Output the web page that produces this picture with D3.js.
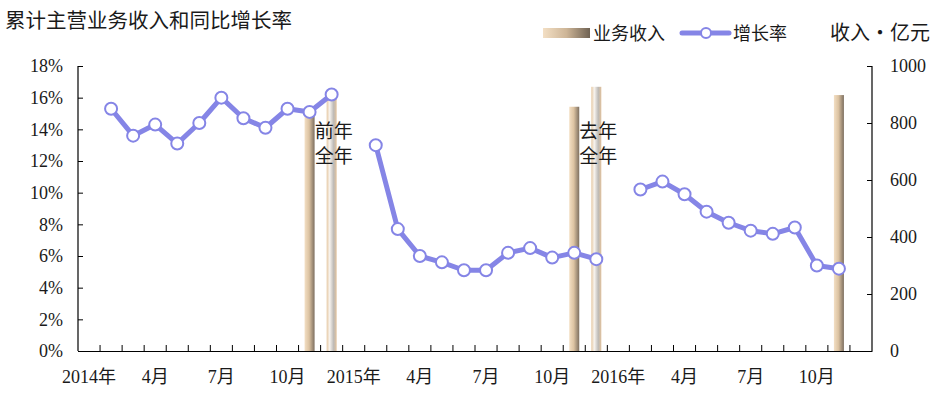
<!DOCTYPE html>
<html>
<head>
<meta charset="utf-8">
<script src="https://cdn.jsdelivr.net/npm/d3@7"></script>
<style>
  body { margin: 0; background: #fff; }
  text { font-family: "Liberation Serif", "Noto Sans CJK SC", serif; fill: #1a1a1a; }
</style>
</head>
<body>
<div id="canvas"></div>
<script>
// 数据
const years = ["2014", "2015", "2016"];
const monthNums = [1, 2, 3, 4, 5, 6, 7, 8, 9, 10, 11, 12];
const months = years.flatMap(y => monthNums.map(m => `${y}-${m}`));

// 增长率（%），每年 2月-12月
const growthMonths2014 = ["2014-2","2014-3","2014-4","2014-5","2014-6","2014-7","2014-8","2014-9","2014-10","2014-11","2014-12"];
const growth2014 = [15.3, 13.6, 14.3, 13.1, 14.4, 16.0, 14.7, 14.1, 15.3, 15.1, 16.2];
const growthMonths2015 = ["2015-2","2015-3","2015-4","2015-5","2015-6","2015-7","2015-8","2015-9","2015-10","2015-11","2015-12"];
const growth2015 = [13.0, 7.7, 6.0, 5.6, 5.1, 5.1, 6.2, 6.5, 5.9, 6.2, 5.8];
const growthMonths2016 = ["2016-2","2016-3","2016-4","2016-5","2016-6","2016-7","2016-8","2016-9","2016-10","2016-11"];
const growth2016 = [10.2, 10.7, 9.9, 8.8, 8.1, 7.6, 7.4, 7.8, 5.4, 5.2];

// 业务收入（亿元）
const barMonths = ["2014-11", "2014-12", "2015-11", "2015-12", "2016-11"];
const revenue = [830, 890, 857, 927, 898];
const barKind = ["cum", "full", "cum", "full", "cum"];

const leftTicks = [0, 2, 4, 6, 8, 10, 12, 14, 16, 18];
const rightTicks = [0, 200, 400, 600, 800, 1000];
const labelMonths = ["2014-1","2014-4","2014-7","2014-10","2015-1","2015-4","2015-7","2015-10","2016-1","2016-4","2016-7","2016-10"];
const monthLabel = d => d.endsWith("-1") ? d.split("-")[0] + "年" : d.split("-")[1] + "月";

const width = 943;
const height = 395;
const margin = { top: 66, left: 78, bottom: 44, right: 71 };

const svg = d3.select("#canvas").append("svg")
  .attr("width", width)
  .attr("height", height);

const x = d3.scaleBand().domain(months).range([margin.left, width - margin.right]).padding(0);
const yL = d3.scaleLinear().domain([0, 18]).range([height - margin.bottom, margin.top]);
const yR = d3.scaleLinear().domain([0, 1000]).range([height - margin.bottom, margin.top]);

// 渐变
const defs = svg.append("defs");
const g1 = defs.append("linearGradient").attr("id", "gradCum");
g1.append("stop").attr("offset", "0%").attr("stop-color", "#f3dfc4");
g1.append("stop").attr("offset", "45%").attr("stop-color", "#dcc3a2");
g1.append("stop").attr("offset", "100%").attr("stop-color", "#7d6f60");
const g2 = defs.append("linearGradient").attr("id", "gradFull");
g2.append("stop").attr("offset", "0%").attr("stop-color", "#e6c9a4");
g2.append("stop").attr("offset", "30%").attr("stop-color", "#f7f3ee");
g2.append("stop").attr("offset", "70%").attr("stop-color", "#bdbab6");
g2.append("stop").attr("offset", "100%").attr("stop-color", "#e2c29c");
const gl = defs.append("linearGradient").attr("id", "gradLegend");
gl.append("stop").attr("offset", "0%").attr("stop-color", "#f3dfc4");
gl.append("stop").attr("offset", "50%").attr("stop-color", "#cdb597");
gl.append("stop").attr("offset", "100%").attr("stop-color", "#6f6253");

const bw = 10;
svg.append("g").selectAll("rect")
  .data(barMonths)
  .join("rect")
  .attr("x", d => x(d) + x.bandwidth() / 2 - bw / 2)
  .attr("y", (d, i) => yR(revenue[i]))
  .attr("width", bw)
  .attr("height", (d, i) => yR(0) - yR(revenue[i]))
  .attr("fill", (d, i) => barKind[i] === "cum" ? "url(#gradCum)" : "url(#gradFull)");

// 坐标轴
const axisL = svg.append("g")
  .attr("transform", `translate(${margin.left},0)`)
  .call(d3.axisRight(yL).tickValues(leftTicks).tickSize(5).tickFormat(d => d + "%"));
axisL.selectAll("text").attr("x", -15).attr("text-anchor", "end");

const axisR = svg.append("g")
  .attr("transform", `translate(${width - margin.right},0)`)
  .call(d3.axisLeft(yR).tickValues(rightTicks).tickSize(5).tickFormat(d3.format("d")));
axisR.selectAll("text").attr("x", 18).attr("text-anchor", "start");

const axisB = svg.append("g")
  .attr("transform", `translate(0,${height - margin.bottom})`)
  .call(d3.axisBottom(x).tickValues(labelMonths).tickSize(0).tickFormat(monthLabel));
axisB.selectAll("text").attr("y", 19);

// 月份间刻度
svg.append("g").selectAll("line")
  .data(months.slice(1))
  .join("line")
  .attr("x1", d => x(d)).attr("x2", d => x(d))
  .attr("y1", yL(0)).attr("y2", yL(0) - 6)
  .attr("stroke", "#000");

[axisL, axisR, axisB].forEach(a => {
  a.selectAll("text").style("font-size", "18px").attr("fill", "#1a1a1a");
  a.selectAll(".domain").attr("stroke", "#000").attr("stroke-width", 1.2);
  a.selectAll(".tick line").attr("stroke", "#000");
});
axisL.select(".domain").attr("d", `M0,${yL(18)}V${yL(0)}`);
axisR.select(".domain").attr("d", `M0,${yR(1000)}V${yR(0)}`);

// 增长率折线
const lineColor = "#8585e6";
const segments = [
  { m: growthMonths2014, v: growth2014 },
  { m: growthMonths2015, v: growth2015 },
  { m: growthMonths2016, v: growth2016 }
];
const line = d3.line()
  .x(d => x(d[0]) + x.bandwidth() / 2)
  .y(d => yL(d[1]));
segments.forEach(s => {
  const pts = s.m.map((m, i) => [m, s.v[i]]);
  svg.append("path")
    .datum(pts)
    .attr("d", line)
    .attr("fill", "none")
    .attr("stroke", lineColor)
    .attr("stroke-width", 5)
    .attr("stroke-linejoin", "round");
  svg.append("g").selectAll("circle")
    .data(pts)
    .join("circle")
    .attr("cx", d => x(d[0]) + x.bandwidth() / 2)
    .attr("cy", d => yL(d[1]))
    .attr("r", 6)
    .attr("fill", "#fff")
    .attr("stroke", lineColor)
    .attr("stroke-width", 2);
});

// 注释
const notes = [
  { m: "2014-12", lines: ["前年", "全年"] },
  { m: "2015-12", lines: ["去年", "全年"] }
];
notes.forEach(n => {
  const tx = x(n.m) + x.bandwidth() / 2 - 17;
  const t = svg.append("text")
    .attr("x", tx)
    .attr("y", 138)
    .style("font-size", "19px");
  n.lines.forEach((l, i) => t.append("tspan").attr("x", tx).attr("dy", i ? 25 : 0).text(l));
});

// 标题与图例
svg.append("text").attr("x", 5).attr("y", 28).style("font-size", "20.5px").text("累计主营业务收入和同比增长率");

svg.append("rect").attr("x", 543).attr("y", 28).attr("width", 47).attr("height", 10).attr("fill", "url(#gradLegend)");
svg.append("text").attr("x", 593).attr("y", 40).style("font-size", "18px").text("业务收入");

svg.append("line").attr("x1", 682).attr("x2", 729).attr("y1", 33).attr("y2", 33)
  .attr("stroke", lineColor).attr("stroke-width", 5).attr("stroke-linecap", "round");
svg.append("circle").attr("cx", 706).attr("cy", 33).attr("r", 5)
  .attr("fill", "#fff").attr("stroke", lineColor).attr("stroke-width", 2);
svg.append("text").attr("x", 733).attr("y", 40).style("font-size", "18px").text("增长率");

svg.append("text").attr("x", 830).attr("y", 40).style("font-size", "20px").text("收入・亿元");
</script>
</body>
</html>
